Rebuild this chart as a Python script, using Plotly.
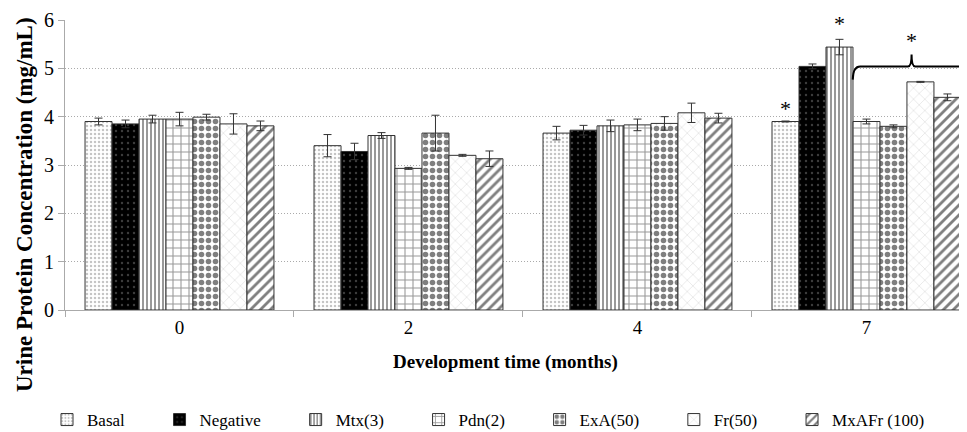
import plotly.graph_objects as go

months = ["0", "2", "4", "7"]
series_names = ["Basal", "Negative", "Mtx(3)", "Pdn(2)", "ExA(50)", "Fr(50)", "MxAFr (100)"]

basal = [3.90, 3.40, 3.66, 3.90]
negative = [3.85, 3.28, 3.72, 5.04]
mtx = [3.95, 3.61, 3.81, 5.44]
pdn = [3.95, 2.93, 3.83, 3.90]
exa = [3.99, 3.66, 3.86, 3.80]
fr = [3.85, 3.20, 4.08, 4.72]
mxafr = [3.81, 3.13, 3.97, 4.40]

basal_err = [0.07, 0.23, 0.14, 0.01]
negative_err = [0.08, 0.17, 0.10, 0.05]
mtx_err = [0.08, 0.06, 0.12, 0.16]
pdn_err = [0.14, 0.02, 0.12, 0.05]
exa_err = [0.06, 0.37, 0.14, 0.03]
fr_err = [0.21, 0.02, 0.20, 0.01]
mxafr_err = [0.10, 0.16, 0.10, 0.07]

values = [basal, negative, mtx, pdn, exa, fr, mxafr]
errors = [basal_err, negative_err, mtx_err, pdn_err, exa_err, fr_err, mxafr_err]

patterns = [
    dict(shape=".", fgcolor="#8a8a8a", bgcolor="white", size=4, solidity=0.3),
    dict(shape=".", fgcolor="#777777", bgcolor="black", size=6, solidity=0.12),
    dict(shape="|", fgcolor="black", bgcolor="white", size=4, solidity=0.4),
    dict(shape="+", fgcolor="#333333", bgcolor="white", size=8, solidity=0.25),
    dict(shape=".", fgcolor="black", bgcolor="white", size=7, solidity=0.5),
    dict(shape="x", fgcolor="#aaaaaa", bgcolor="white", size=8, solidity=0.12),
    dict(shape="/", fgcolor="black", bgcolor="white", size=7, solidity=0.4),
]

FONT = "Liberation Serif"
PAD = "\u00a0" * 7  # spacing between legend entries

# the page places the figure 8px in from the top-left corner
W, H = 967, 432
L, R, T, B = 57, 8, 12, 130
pw, ph = W - L - R, H - T - B
bottom = H - B

fig = go.Figure()
for i, (name, vals, errs, pat) in enumerate(zip(series_names, values, errors, patterns)):
    label = name if i == len(series_names) - 1 else name + PAD
    fig.add_trace(go.Bar(
        x=months, y=vals, name=label,
        marker=dict(color=pat["bgcolor"], pattern=pat, line=dict(color="#333333", width=1)),
        error_y=dict(type="data", array=errs, visible=True, color="#333333", thickness=1, width=4),
    ))

# significance bracket and stars
bracket = ("M 2.940,4.767 Q 2.942,5.036 2.972,5.036 L 3.181,5.036 "
           "Q 3.197,5.036 3.197,5.285 Q 3.197,5.036 3.213,5.036 L 3.6,5.036")
fig.add_shape(type="path", path=bracket, xref="x", yref="y",
              line=dict(color="black", width=2))
for sx, sy in [(2.646, 4.17), (2.882, 5.93), (3.197, 5.57)]:
    fig.add_annotation(x=sx, y=sy, xref="x", yref="y", text="*", showarrow=False,
                       font=dict(family=FONT, size=22, color="black"))

fig.add_annotation(x=(497 - L) / pw, y=(bottom - 354) / ph, xref="paper", yref="paper",
                   xanchor="center", yanchor="middle",
                   text="<b>Development time (months)</b>",
                   showarrow=False, font=dict(family=FONT, size=19, color="black"))
fig.add_annotation(x=(16 - L) / pw, y=(bottom - 197) / ph, xref="paper", yref="paper",
                   xanchor="center", yanchor="middle",
                   text="<b>Urine Protein Concentration (mg/mL)</b>", textangle=-90,
                   showarrow=False, font=dict(family=FONT, size=23, color="black"))

fig.update_layout(
    width=W, height=H,
    margin=dict(l=L, r=R, t=T, b=B, autoexpand=False),
    plot_bgcolor="white", paper_bgcolor="white",
    barmode="group", bargap=0.175, bargroupgap=0,
    font=dict(family=FONT, size=19, color="black"),
    showlegend=True,
    legend=dict(orientation="h", x=(39 - L) / pw, xanchor="left",
                y=(bottom - 412) / ph, yanchor="middle",
                font=dict(family=FONT, size=17), itemwidth=30,
                traceorder="normal", tracegroupgap=0),
    xaxis=dict(type="category", range=[-0.5, 3.439], showline=True, linecolor="#aaaaaa",
               ticks="outside", tickson="boundaries", ticklen=6, tickcolor="#aaaaaa",
               showgrid=False, tickfont=dict(size=19), automargin=False),
    yaxis=dict(range=[0, 6], dtick=1, showline=True, linecolor="#aaaaaa", ticks="outside",
               ticklen=6, tickcolor="#aaaaaa", showgrid=True, gridcolor="#aaaaaa",
               griddash="1px,2px", gridwidth=1, zeroline=False, tickfont=dict(size=20),
               automargin=False),
)

fig.write_html("out.html")
